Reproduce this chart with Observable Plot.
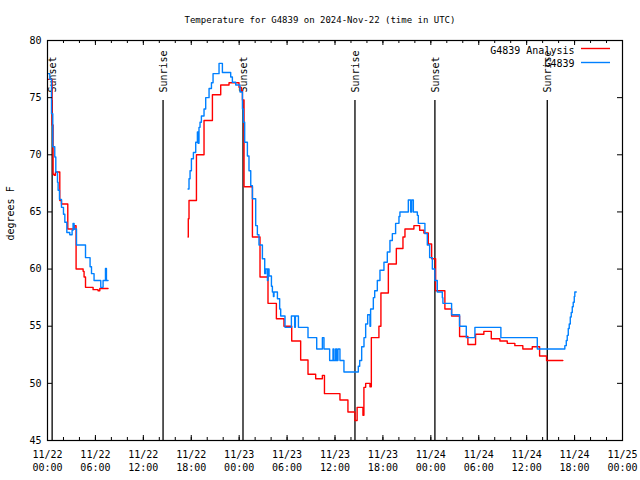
<!DOCTYPE html>
<html><head><meta charset="utf-8">
<script src="https://cdn.jsdelivr.net/npm/d3@7"></script>
<script src="https://cdn.jsdelivr.net/npm/@observablehq/plot@0.6"></script>
<style>body{margin:0;background:#fff}</style>
</head><body><div id="chart"></div>
<script>
const title = "Temperature for G4839 on 2024-Nov-22 (time in UTC)";
const yLabel = "degrees F";
const seriesNames = ["G4839 Analysis", "G4839"];
const seriesColors = ["#ff0000", "#0080ff"];
const startDate = "2024-11-22T00:00:00Z";
const endDate = "2024-11-25T00:00:00Z";
const sunsetHours = [0.58, 24.48, 48.51];
const sunriseHours = [14.47, 38.50, 62.58];
const yTicks = [45, 50, 55, 60, 65, 70, 75, 80];

// hours after 2024-11-22 00:00 UTC
const analysisHours = [0.08,0.58,0.70,0.83,1.00,1.54,1.75,2.54,3.38,3.58,4.46,4.58,4.76,5.71,6.33,6.55,7.58,
 17.60,17.63,17.72,18.65,19.60,20.65,21.69,22.73,23.98,24.28,24.41,24.61,25.66,26.61,27.61,28.66,29.61,30.58,31.70,32.62,33.58,34.42,34.68,36.62,37.62,38.50,38.77,39.50,39.62,39.84,40.38,40.55,41.50,41.75,42.68,43.68,44.51,44.76,45.88,46.60,47.13,47.68,48.10,48.60,49.76,50.60,51.60,52.64,53.60,54.64,55.57,56.65,57.57,58.52,59.52,60.70,61.62,62.49,64.53];
const analysisTemps = [76.6,72.6,68.3,68.2,68.5,66.0,65.7,63.5,63.8,60.0,59.8,59.3,58.4,58.2,58.1,58.3,58.3,
 62.8,64.4,66.0,70.0,73.0,75.25,76.1,76.3,75.9,75.6,74.8,67.2,62.8,59.3,57.0,55.65,55.0,53.7,52.05,50.8,50.4,50.7,49.1,48.55,47.5,46.75,47.9,47.2,49.65,50.0,49.7,54.0,55.0,57.9,60.45,61.8,62.8,63.5,63.8,63.4,63.15,62.2,60.9,58.1,56.5,55.9,54.1,53.4,54.3,54.55,53.9,53.7,53.5,53.3,53.0,53.2,52.4,52.0,52.0];

const obsHours = [0.08,0.29,0.50,0.66,0.91,1.04,1.25,1.33,1.50,1.75,2.00,2.17,2.42,2.79,3.08,3.20,3.33,3.63,4.76,5.33,5.51,5.83,6.67,6.96,7.26,7.38,7.58,
 17.60,17.72,17.85,18.02,18.27,18.56,18.77,18.85,18.97,19.10,19.27,19.60,19.81,20.23,20.53,20.73,21.48,21.90,22.94,23.15,23.57,24.11,24.41,24.53,24.69,25.03,25.23,25.45,25.66,26.07,26.28,26.48,26.91,27.20,27.32,27.54,27.61,27.74,28.04,28.16,28.29,28.36,28.79,29.07,29.20,29.74,30.54,30.95,31.04,31.42,32.62,33.71,34.42,34.62,35.33,35.75,35.87,36.08,36.21,36.37,36.62,37.12,38.92,39.09,39.34,39.63,39.84,40.09,40.38,40.46,40.80,40.97,41.30,41.63,42.13,42.55,42.88,43.18,43.59,44.01,44.13,45.18,45.47,45.60,45.81,46.31,46.43,47.26,47.56,47.85,48.19,48.51,48.81,49.44,49.51,50.60,51.60,52.44,53.52,56.77,61.33,64.78,64.96,65.08,65.21,65.33,65.46,65.58,65.71,65.83,65.96,66.03,66.21];
const obsTemps = [77.1,76.6,73.6,70.7,69.8,68.5,67.6,66.9,66.1,65.4,64.8,64.1,63.2,63.0,63.4,64.0,63.5,62.1,61.0,60.2,59.6,59.0,58.4,59.0,60.05,59.0,59.0,
 67.0,67.9,68.6,69.65,70.2,71.1,72.0,71.0,72.4,72.85,73.4,74.0,75.0,75.8,76.3,77.1,78.0,77.2,76.8,76.35,76.1,75.5,74.0,72.85,71.1,69.9,68.6,67.3,66.15,63.8,63.0,62.1,60.9,59.6,60.0,59.0,60.0,59.4,58.5,58.0,57.6,58.0,57.4,56.5,55.9,54.9,55.9,54.9,55.9,54.9,54.0,53.0,54.0,53.0,52.0,53.0,52.0,53.0,52.0,53.0,52.0,51.0,51.5,52.0,53.2,54.0,55.2,56.0,55.0,56.5,57.5,58.1,59.0,59.9,60.6,61.5,62.5,63.1,64.0,64.6,65.0,66.05,65.0,66.05,65.0,64.7,64.0,63.1,62.1,61.0,60.0,59.0,58.0,57.5,57.0,56.0,55.0,54.0,54.9,54.0,53.0,53.3,53.75,54.2,54.8,55.2,55.8,56.2,56.7,57.1,57.6,58.0,58.0];

const t0 = new Date(startDate);
const t1 = new Date(endDate);
const toTime = h => new Date(+t0 + h * 3600e3);

function buildSeries(name, hours, temps) {
  let seg = 0;
  return hours.map((h, i) => {
    if (i > 0 && h - hours[i - 1] > 8) seg++;
    return {series: name, seg: name + "-" + seg, time: toTime(h), temp: temps[i]};
  });
}
const analysis = buildSeries(seriesNames[0], analysisHours, analysisTemps);
const obs = buildSeries(seriesNames[1], obsHours, obsTemps);
const sunsets = sunsetHours.map(toTime);
const sunrises = sunriseHours.map(toTime);
const majorTicks = d3.utcHour.every(6).range(t0, new Date(+t1 + 1));
const minorTicks = d3.utcHour.every(2).range(t0, new Date(+t1 + 1));
const fmtDate = d3.utcFormat("%m/%d"), fmtTime = d3.utcFormat("%H:%M");

const chart = Plot.plot({
  width: 640, height: 480,
  marginTop: 40, marginRight: 18, marginBottom: 40, marginLeft: 47,
  style: {fontFamily: "'DejaVu Sans Mono', monospace", fontSize: "10px", background: "#fff", color: "#000"},
  x: {type: "utc", domain: [t0, t1]},
  y: {domain: [45, 80]},
  marks: [
    Plot.ruleX(sunsets.concat(sunrises), {x: d => d, insetTop: 60, stroke: "#000", strokeWidth: 1.3}),
    Plot.text(sunsets, {x: d => d, text: () => "Sunset", frameAnchor: "top", dy: 52, dx: 1, rotate: -90, textAnchor: "start", lineAnchor: "middle", fill: "#000"}),
    Plot.text(sunrises, {x: d => d, text: () => "Sunrise", frameAnchor: "top", dy: 52, dx: 1, rotate: -90, textAnchor: "start", lineAnchor: "middle", fill: "#000"}),
    Plot.line(analysis, {x: "time", y: "temp", z: "seg", curve: "step-after", stroke: seriesColors[0], strokeWidth: 1.4}),
    Plot.line(obs, {x: "time", y: "temp", z: "seg", curve: "step-after", stroke: seriesColors[1], strokeWidth: 1.4}),
    Plot.frame({stroke: "#000", strokeWidth: 1.2}),
    Plot.tickX(majorTicks, {x: d => d, insetTop: 395, stroke: "#000"}),
    Plot.tickX(majorTicks, {x: d => d, insetBottom: 395, stroke: "#000"}),
    Plot.tickX(minorTicks, {x: d => d, insetTop: 397, stroke: "#000"}),
    Plot.tickX(minorTicks, {x: d => d, insetBottom: 397, stroke: "#000"}),
    Plot.tickY(yTicks, {y: d => d, insetRight: 570, stroke: "#000"}),
    Plot.tickY(yTicks, {y: d => d, insetLeft: 570, stroke: "#000"}),
    Plot.axisX({ticks: majorTicks, tickFormat: d => fmtDate(d) + "\n" + fmtTime(d), tickSize: 0, tickPadding: 8, lineHeight: 1.3, label: null, fill: "#000"}),
    Plot.axisY({ticks: yTicks, tickSize: 0, tickPadding: 6, label: null, fill: "#000"}),
    Plot.text([title], {frameAnchor: "top", dy: -24, dx: -15, fontSize: 9, fill: "#000"}),
    Plot.text([yLabel], {frameAnchor: "left", dx: -37, rotate: -90, fill: "#000"}),
    Plot.text([seriesNames[0]], {frameAnchor: "top-right", dx: -48, dy: 6, textAnchor: "end", fill: "#000"}),
    Plot.text([seriesNames[1]], {frameAnchor: "top-right", dx: -48, dy: 19, textAnchor: "end", fill: "#000"}),
    Plot.ruleY([0], {y: null, insetLeft: 534, insetRight: 12, dy: -192, stroke: seriesColors[0], strokeWidth: 1.4}),
    Plot.ruleY([0], {y: null, insetLeft: 534, insetRight: 12, dy: -178, stroke: seriesColors[1], strokeWidth: 1.4})
  ]
});
document.getElementById("chart").appendChild(chart);
</script>
</body></html>
